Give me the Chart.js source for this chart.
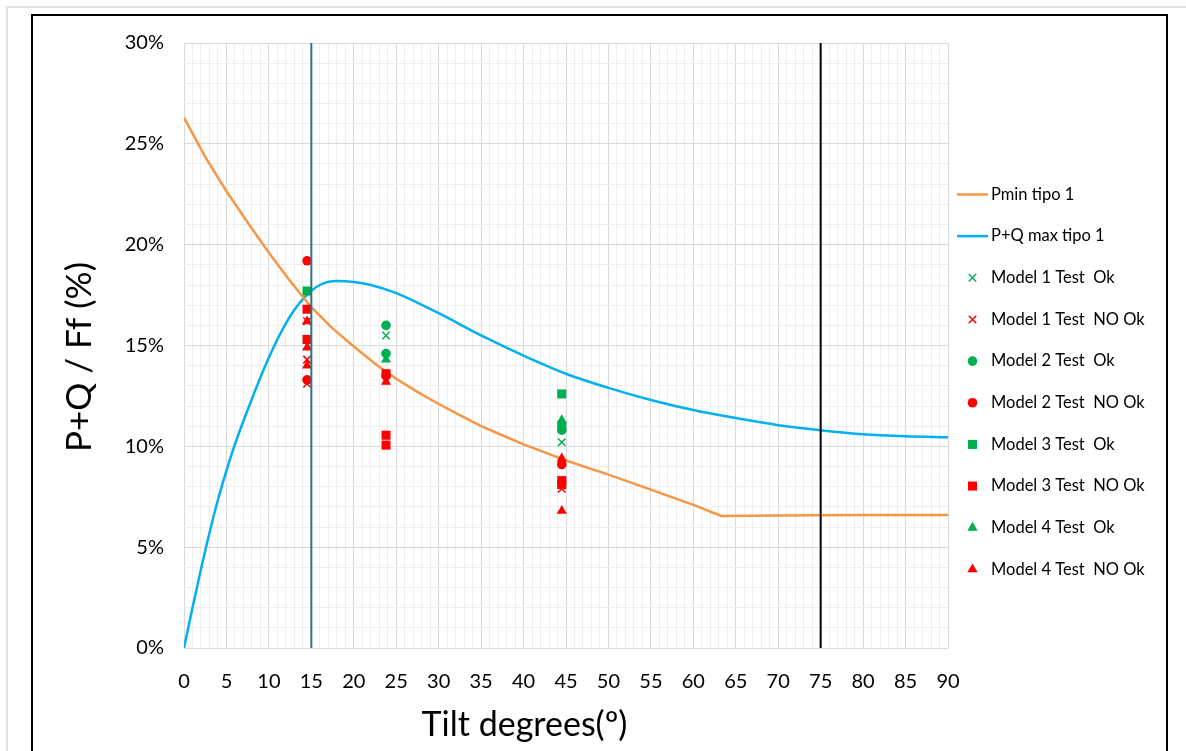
<!DOCTYPE html>
<html>
<head>
<meta charset="utf-8">
<script src="https://cdn.jsdelivr.net/npm/chart.js@4.4.1/dist/chart.umd.min.js"></script>
<style>
  body { margin: 0; background: #fff; }
  #frame { position: absolute; left: 6px; top: 6px; width: 1180px; height: 745px;
           border-left: 2px solid #e3e3e3; border-top: 2px solid #e3e3e3; }
  #box { position: absolute; left: 31px; top: 14px; width: 1133px; height: 760px; border: 2px solid #000; }
  #box canvas { position: absolute; left: 0; top: 0; }
</style>
</head>
<body>
<div id="frame"></div>
<div id="box"><canvas id="myChart" width="1133" height="735"></canvas></div>
<script>
const FONT = 'Lato, "Open Sans", sans-serif';

// curves
const pminX = [0, 2.5, 5, 7.5, 10, 12.5, 15, 17.5, 20, 22.5, 25, 27.5, 30, 32.5, 35, 37.5, 40, 42.5, 45, 50, 55, 60, 63.3, 70, 80, 90];
const pminY = [26.3, 24.35, 22.65, 21.1, 19.6, 18.2, 16.9, 15.85, 14.95, 14.1, 13.35, 12.7, 12.1, 11.55, 11.0, 10.55, 10.1, 9.7, 9.3, 8.6, 7.85, 7.1, 6.55, 6.57, 6.6, 6.6];

const pqmaxX = [0, 1, 2, 3, 4, 5, 6, 8, 10, 12, 14, 16, 18, 20, 22, 25, 30, 35, 40, 45, 50, 55, 60, 65, 70, 75, 80, 85, 90];
const pqmaxY = [0, 2.0, 3.9, 5.7, 7.35, 8.8, 10.1, 12.35, 14.4, 16.1, 17.3, 18.0, 18.2, 18.15, 18.0, 17.6, 16.6, 15.5, 14.5, 13.6, 12.9, 12.3, 11.8, 11.4, 11.05, 10.8, 10.6, 10.5, 10.45];

// test results
const m1OkX = [23.8, 44.5];                         const m1OkY = [15.5, 10.2];
const m1NoX = [14.5, 14.5, 14.5, 44.5];             const m1NoY = [16.2, 14.3, 13.1, 7.9];
const m2OkX = [23.8, 23.8, 44.5];                   const m2OkY = [16.0, 14.6, 10.8];
const m2NoX = [14.5, 14.5, 23.8, 44.5];             const m2NoY = [19.2, 13.3, 13.5, 9.1];
const m3OkX = [14.5, 44.5, 44.5];                   const m3OkY = [17.7, 12.6, 11.0];
const m3NoX = [14.5, 14.5, 23.8, 23.8, 23.8, 44.5, 44.5]; const m3NoY = [16.8, 15.3, 13.6, 10.55, 10.06, 8.3, 8.1];
const m4OkX = [23.8, 44.5];                         const m4OkY = [14.3, 11.3];
const m4NoX = [14.5, 14.5, 14.5, 23.8, 44.5, 44.5]; const m4NoY = [16.2, 14.9, 14.0, 13.2, 9.4, 6.8];

// vertical limits
const guideX = [15, 75];

const X_MIN = 0, X_MAX = 90, Y_MIN = 0, Y_MAX = 30;
const X_TITLE = 'Tilt degrees(º)';
const Y_TITLE = 'P+Q / Ff (%)';

const ORANGE = '#f79646', BLUE = '#00b0f0', GREEN = '#00b050', RED = '#ff0000';

const toPts = (xs, ys) => xs.map((x, i) => ({x: x, y: ys[i]}));

const curve = (label, xs, ys, color, smooth) => ({
  label, data: toPts(xs, ys), showLine: true, borderColor: color, backgroundColor: color,
  borderWidth: 2.5, pointRadius: 0, order: 3,
  cubicInterpolationMode: smooth ? 'monotone' : 'default', tension: 0
});

const marker = (label, xs, ys, color, style, r) => ({
  label, data: toPts(xs, ys), showLine: false, pointStyle: style, pointRadius: r,
  pointBackgroundColor: color, pointBorderColor: color,
  pointBorderWidth: style === 'crossRot' ? 1.5 : 0,
  backgroundColor: color, borderColor: color, order: 2
});

const guide = (x, color) => ({
  label: '', data: [{x: x, y: Y_MIN}, {x: x, y: Y_MAX}], showLine: true,
  borderColor: color, borderWidth: 2, pointRadius: 0, order: 1, isGuide: true
});

// legend on the right + axis titles, placed like the Excel original
const excelLayout = {
  id: 'excelLayout',
  afterDraw(chart) {
    const {ctx, chartArea} = chart;
    const drawPoint = Chart.helpers && Chart.helpers.drawPoint;
    ctx.save();

    // axis titles
    ctx.fillStyle = '#000';
    ctx.textAlign = 'center';
    ctx.textBaseline = 'middle';
    ctx.font = '34px ' + FONT;
    ctx.fillText(X_TITLE, chartArea.left + chartArea.width * 0.4457, chartArea.bottom + 77);
    ctx.save();
    ctx.translate(47, chartArea.top + chartArea.height * 0.519);
    ctx.rotate(-Math.PI / 2);
    ctx.font = '35px ' + FONT;
    ctx.fillText(Y_TITLE, 0, 0);
    ctx.restore();

    // legend
    const x0 = chartArea.right + 9;
    let y = chartArea.top + 151.5;
    ctx.textAlign = 'left';
    ctx.font = '16.5px ' + FONT;
    chart.data.datasets.forEach(ds => {
      if (ds.isGuide) return;
      if (ds.showLine) {
        ctx.strokeStyle = ds.borderColor;
        ctx.lineWidth = ds.borderWidth;
        ctx.beginPath(); ctx.moveTo(x0, y); ctx.lineTo(x0 + 31, y); ctx.stroke();
      } else if (drawPoint) {
        ctx.fillStyle = ds.pointBackgroundColor;
        ctx.strokeStyle = ds.pointBorderColor;
        ctx.lineWidth = ds.pointBorderWidth;
        drawPoint(ctx, {pointStyle: ds.pointStyle, radius: ds.pointRadius,
                        borderWidth: ds.pointBorderWidth, rotation: 0}, x0 + 15.5, y);
      }
      ctx.fillStyle = '#000';
      ctx.fillText(ds.label, x0 + 34, y);
      y += 41.65;
    });
    ctx.restore();
  }
};

// keep the plot area where Excel had it
const noLabelOverflow = s => { s.paddingTop = 0; s.paddingBottom = 0; s.paddingLeft = 0; s.paddingRight = 0; };

const setup = () => {
  const ctxt = document.getElementById('myChart').getContext('2d');
  new Chart(ctxt, {
    type: 'scatter',
    data: {
      datasets: [
        curve('Pmin tipo 1', pminX, pminY, ORANGE, false),
        curve('P+Q max tipo 1', pqmaxX, pqmaxY, BLUE, true),
        marker('Model 1 Test  Ok', m1OkX, m1OkY, GREEN, 'crossRot', 5.3),
        marker('Model 1 Test  NO Ok', m1NoX, m1NoY, RED, 'crossRot', 5.3),
        marker('Model 2 Test  Ok', m2OkX, m2OkY, GREEN, 'circle', 4.8),
        marker('Model 2 Test  NO Ok', m2NoX, m2NoY, RED, 'circle', 4.8),
        marker('Model 3 Test  Ok', m3OkX, m3OkY, GREEN, 'rect', 6.4),
        marker('Model 3 Test  NO Ok', m3NoX, m3NoY, RED, 'rect', 6.4),
        marker('Model 4 Test  Ok', m4OkX, m4OkY, GREEN, 'triangle', 5.9),
        marker('Model 4 Test  NO Ok', m4NoX, m4NoY, RED, 'triangle', 5.9),
        guide(guideX[0], '#31718a'),
        guide(guideX[1], '#000000')
      ]
    },
    options: {
      responsive: false,
      animation: false,
      layout: { padding: { left: 0, top: 27, right: 218, bottom: 0 } },
      plugins: { legend: { display: false }, tooltip: { enabled: false } },
      scales: {
        x: {
          type: 'linear', min: X_MIN, max: X_MAX,
          border: { display: false },
          grid: { drawTicks: false, color: c => c.tick.value % 5 === 0 ? '#d9d9d9' : '#eeeeee' },
          ticks: { stepSize: 1, autoSkip: false, maxRotation: 0, padding: 22, color: '#000',
                   font: { family: FONT, size: 20 },
                   callback: v => v % 5 === 0 ? String(v) : '' },
          afterFit: s => { s.height = 103; noLabelOverflow(s); }
        },
        y: {
          min: Y_MIN, max: Y_MAX,
          border: { display: false },
          grid: { drawTicks: false, color: c => c.tick.value % 5 === 0 ? '#d9d9d9' : '#eeeeee' },
          ticks: { stepSize: 1, autoSkip: false, padding: 20, color: '#000',
                   font: { family: FONT, size: 20 },
                   callback: v => v % 5 === 0 ? v + '%' : '' },
          afterFit: s => { s.width = 151; noLabelOverflow(s); }
        }
      }
    },
    plugins: [excelLayout]
  });
};

window.addEventListener('DOMContentLoaded', setup);
</script>
</body>
</html>
